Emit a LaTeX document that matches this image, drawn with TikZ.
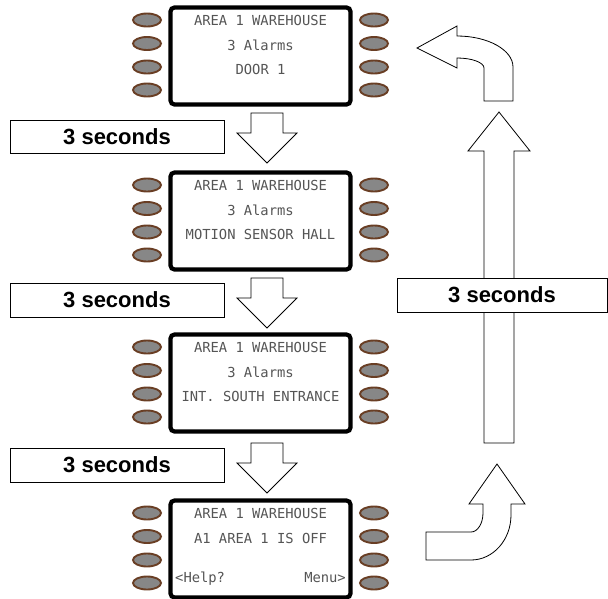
\documentclass[tikz,border=0pt]{standalone}
\usepackage{fontspec}
\setmainfont{Liberation Sans}
\newfontfamily\lcdfont{DejaVu Sans Mono}
\usetikzlibrary{shapes.geometric}
\definecolor{btngray}{RGB}{135,135,135}
\definecolor{btnbrown}{RGB}{105,62,36}
\definecolor{lcdgray}{RGB}{85,85,85}
\newcommand\keypad[2]{%
  \node[screen] (#1) at (260.5,#2+51) {};
  \foreach \i/\dy in {1/15,2/38.5,3/62,4/85}{
    \node[btn] (#1L\i) at (147,#2+\dy) {};
    \node[btn] (#1R\i) at (374,#2+\dy) {};
  }
}
\begin{document}
\begin{tikzpicture}[x=1pt,y=-1pt,
  screen/.style={draw=black, line width=4.2pt, rounded corners=4pt, fill=white,
    minimum width=180pt, minimum height=97pt, inner sep=0pt},
  btn/.style={ellipse, draw=btnbrown, line width=1.9pt, fill=btngray,
    minimum width=28pt, minimum height=13pt, inner sep=0pt},
  lcd/.style={font=\lcdfont\fontsize{13.8}{14}\selectfont, text=lcdgray, inner sep=0pt, anchor=base},
  secbox/.style={draw=black, line width=0.8pt, fill=white,
    font=\bfseries\fontsize{22}{25}\selectfont, inner sep=0pt},
  arrowshape/.style={draw=black, line width=0.8pt, fill=white, line join=miter}
]
\useasboundingbox (0,0) rectangle (608,598);
\fill[white] (0,0) rectangle (608,598);

% keypads
\keypad{k1}{5}
\keypad{k2}{170}
\keypad{k3}{332}
\keypad{k4}{498}

% screen texts
\node[lcd] (t11) at (260.5,25) {AREA 1 WAREHOUSE};
\node[lcd] (t12) at (260.5,50) {3 Alarms};
\node[lcd] (t13) at (260.5,74) {DOOR 1};

\node[lcd] (t21) at (260.5,190) {AREA 1 WAREHOUSE};
\node[lcd] (t22) at (260.5,215) {3 Alarms};
\node[lcd] (t23) at (260.5,239) {MOTION SENSOR HALL};

\node[lcd] (t31) at (260.5,352) {AREA 1 WAREHOUSE};
\node[lcd] (t32) at (260.5,377) {3 Alarms};
\node[lcd] (t33) at (260.5,401) {INT. SOUTH ENTRANCE};

\node[lcd] (t41) at (260.5,518) {AREA 1 WAREHOUSE};
\node[lcd] (t42) at (260.5,543) {A1 AREA 1 IS OFF};
\node[lcd, anchor=base west] (t43) at (175,582) {<Help?};
\node[lcd, anchor=base east] (t44) at (346,582) {Menu>};

% down arrows
\foreach \T in {113,278,443}{
  \draw[arrowshape] (251,\T) -- (283,\T) -- (283,\T+20) -- (297,\T+20)
    -- (267,\T+50) -- (237,\T+20) -- (251,\T+20) -- cycle;
}

% long up arrow
\draw[arrowshape] (499,112) -- (530,151) -- (514,151) -- (514,443)
  -- (484,443) -- (484,151) -- (468,151) -- cycle;

% top curved arrow
\draw[arrowshape] (417,48) -- (457,26) -- (457,36)
  .. controls (488,36) and (513,50) .. (513,67) -- (513,101) -- (484,101)
  -- (484,68) .. controls (484,62.5) and (472,58) .. (457,58) -- (457,68) -- cycle;

% bottom curved arrow
\draw[arrowshape] (497,464) -- (525,504) -- (511,504) -- (511,515)
  .. controls (511,540) and (493,560) .. (471,560) -- (426,560) -- (426,532)
  -- (471,532) .. controls (477.6,532) and (483,523.5) .. (483,513)
  -- (483,504) -- (469,504) -- cycle;

% 3 seconds boxes
\node[secbox, minimum width=214pt, minimum height=33pt] (s1) at (117,136.5) {3 seconds};
\node[secbox, minimum width=214pt, minimum height=34pt] (s2) at (117,300) {3 seconds};
\node[secbox, minimum width=214pt, minimum height=34pt] (s3) at (117,465) {3 seconds};
\node[secbox, minimum width=210pt, minimum height=34pt] (s4) at (502,295) {3 seconds};
\end{tikzpicture}
\end{document}
